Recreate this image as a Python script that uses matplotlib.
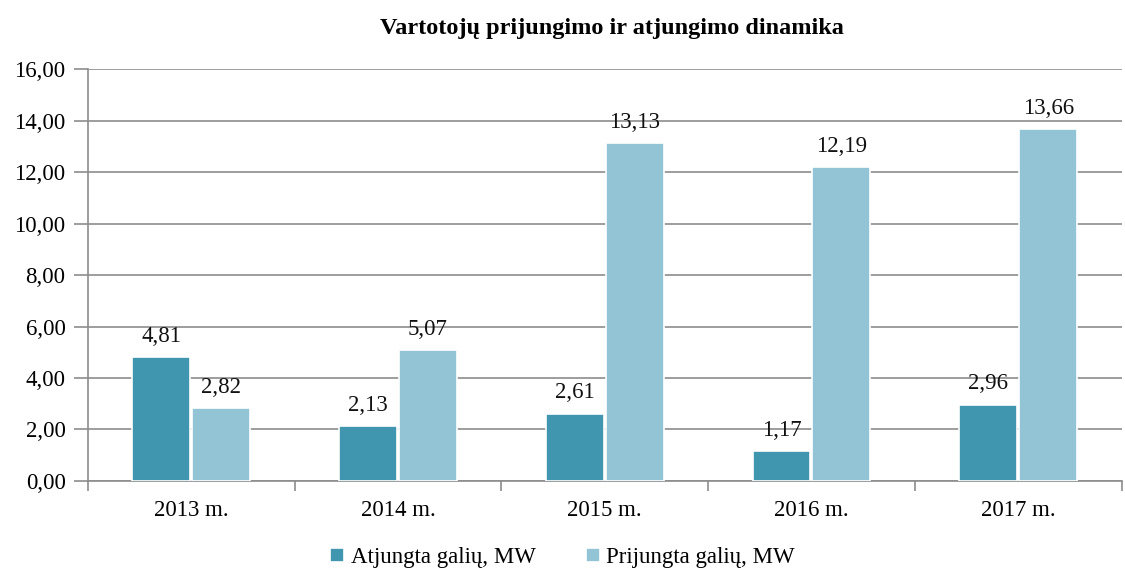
import matplotlib.pyplot as plt
import numpy as np
from matplotlib.ticker import MultipleLocator, FuncFormatter

years = ["2013 m.", "2014 m.", "2015 m.", "2016 m.", "2017 m."]
atjungta = [4.81, 2.13, 2.61, 1.17, 2.96]
prijungta = [2.82, 5.07, 13.13, 12.19, 13.66]

plt.rcParams['font.family'] = ['Liberation Serif', 'DejaVu Serif']

fig = plt.figure(figsize=(11.25, 5.76), dpi=100)
ax = fig.add_axes([0.078, 0.165, 0.919, 0.715])

x = np.arange(len(years))
w = 0.28
dark = '#4096ae'
light = '#93c4d6'
b1 = ax.bar(x - w / 2 - 0.005, atjungta, w, color=dark, edgecolor='white', linewidth=1.2,
            label='Atjungta galių, MW', zorder=3)
b2 = ax.bar(x + w / 2 + 0.005, prijungta, w, color=light, edgecolor='white', linewidth=1.2,
            label='Prijungta galių, MW', zorder=3)

fmt = lambda v: f"{v:.2f}".replace('.', ',')
for bars, vals in [(b1, atjungta), (b2, prijungta)]:
    for r, v in zip(bars, vals):
        ax.text(r.get_x() + r.get_width() / 2, v + 0.4, fmt(v), ha='center', va='bottom',
                fontsize=16.5, color='#111111')

ax.set_xlim(-0.5, len(years) - 0.5)
ax.set_ylim(0, 16)
ax.yaxis.set_major_locator(MultipleLocator(2))
ax.yaxis.set_major_formatter(FuncFormatter(lambda v, p: fmt(v)))
ax.grid(axis='y', color='#8c8c8c', linewidth=1.2, zorder=0)
ax.set_axisbelow(True)

ax.set_xticks(x)
ax.set_xticklabels(years)
ax.set_xticks(np.arange(-0.5, len(years)), minor=True)
ax.tick_params(axis='x', which='major', length=0, pad=14, labelsize=16.5)
ax.tick_params(axis='x', which='minor', length=7, color='#8c8c8c', width=1.2)
ax.tick_params(axis='y', length=10, color='#8c8c8c', width=1.2, labelsize=16.5, pad=6)

for s in ['top', 'right']:
    ax.spines[s].set_visible(False)
for s in ['left', 'bottom']:
    ax.spines[s].set_color('#8c8c8c')
    ax.spines[s].set_linewidth(1.2)

fig.suptitle('Vartotojų prijungimo ir atjungimo dinamika', x=0.544, y=0.968,
             fontsize=17.5, fontweight='bold')

fig.legend(loc='lower center', bbox_to_anchor=(0.5, -0.022), ncol=2, frameon=False,
           fontsize=16.5, handlelength=0.6, handleheight=0.6, handletextpad=0.3,
           columnspacing=2.2)

fig.savefig('out.png', dpi=100)
